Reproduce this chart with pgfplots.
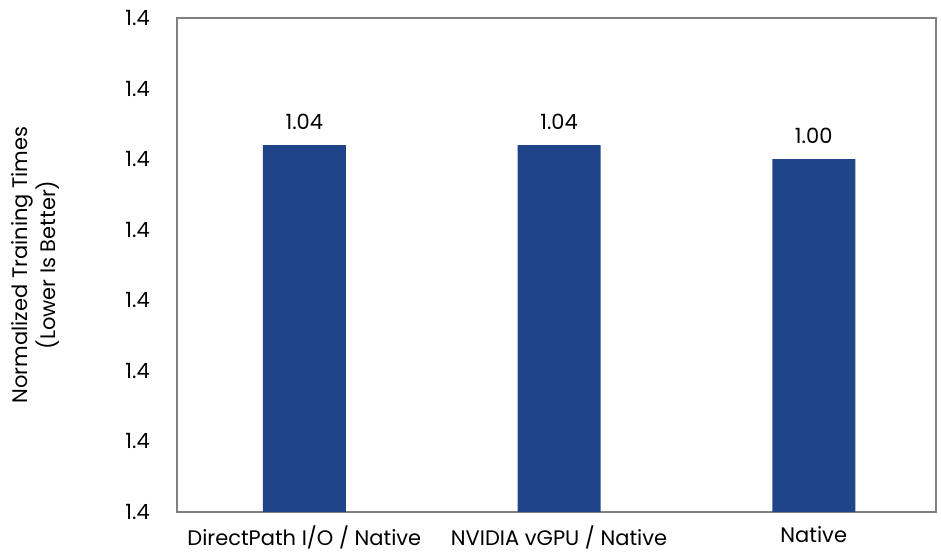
\documentclass[border=0pt]{standalone}
\usepackage{pgfplots}
\pgfplotsset{compat=1.18}
\usepackage{fontspec}
\setmainfont{Poppins}
\definecolor{barblue}{HTML}{1F4488}
\definecolor{framegray}{HTML}{808080}
\begin{document}
\fontsize{21bp}{25bp}\selectfont
\begin{tikzpicture}
\begin{axis}[
  at={(0,0)}, anchor=south west,
  scale only axis,
  width=759bp, height=494bp,
  xmin=-0.5, xmax=2.48,
  ymin=0, ymax=1.4,
  ytick={0,0.2,0.4,0.6,0.8,1.0,1.2,1.4},
  yticklabels={1.4,1.4,1.4,1.4,1.4,1.4,1.4,1.4},
  xtick={0,1,2},
  xticklabels={DirectPath I/O / Native, NVIDIA vGPU / Native, Native},
  major tick length=0pt,
  axis line style={framegray, line width=1.6bp},
  tick label style={font=\fontsize{21bp}{25bp}\selectfont, text=black},
  yticklabel style={xshift=-20bp},
  xticklabel style={yshift=-7bp},
  ylabel={\begin{tabular}{c}Normalized Training Times\\(Lower Is Better)\end{tabular}},
  ylabel style={font=\fontsize{21bp}{28bp}\selectfont, yshift=47bp},
  /pgf/number format/assume math mode=true,
  nodes near coords,
  nodes near coords style={font=\fontsize{21bp}{25bp}\selectfont, text=black, yshift=8bp, /pgf/number format/fixed, /pgf/number format/fixed zerofill, /pgf/number format/precision=2},
]
\addplot[ybar, bar width=83bp, fill=barblue, draw=none] coordinates {(0,1.04) (1,1.04) (2,1.00)};
\end{axis}
\pgfresetboundingbox
\path[use as bounding box] (-177bp,-40bp) rectangle (764bp,512bp);
\end{tikzpicture}
\end{document}
